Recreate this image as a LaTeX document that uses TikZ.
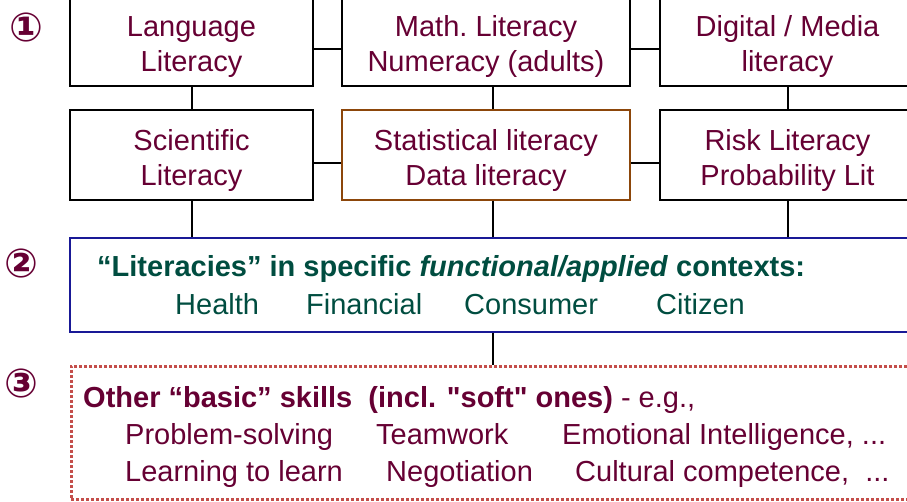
\documentclass[tikz,border=0pt]{standalone}
\usepackage{fontspec}
\setmainfont{Liberation Sans}[Ligatures=TeXOff]
\newfontfamily\numfont{DejaVu Sans}
\usetikzlibrary{calc}

\definecolor{litred}{RGB}{102,0,51}
\definecolor{ctxgreen}{RGB}{0,77,64}
\definecolor{ctxblue}{RGB}{25,25,150}
\definecolor{softred}{RGB}{196,78,74}
\definecolor{statbrown}{RGB}{140,70,10}

\begin{document}
\begin{tikzpicture}[
  x=1pt, y=-1pt,
  litbox/.style={draw, line width=1.5pt, inner sep=0pt, minimum height=90pt,
    text height=68pt, text depth=6pt,
    align=center, text=litred, font=\fontsize{29}{35}\selectfont},
  txt/.style={anchor=base west, inner sep=0pt, font=\fontsize{29}{35}\selectfont},
  num/.style={text=litred, inner sep=0pt, font=\numfont\bfseries\fontsize{40}{40}\selectfont},
  link/.style={draw, line width=2pt}
]
\clip (0,0) rectangle (907,502);

% first row of literacies
\node[litbox, minimum width=243pt] (lang) at (191.5,41) {Language\\Literacy};
\node[litbox, minimum width=288pt] (math) at (486,41) {Math.\ Literacy\\Numeracy (adults)};
\node[litbox, minimum width=255pt] (digi) at (787.5,41) {Digital / Media\\literacy};

% second row
\node[litbox, minimum width=243pt] (sci) at (191.5,155) {Scientific\\Literacy};
\node[litbox, minimum width=288pt, draw=statbrown] (stat) at (486,155) {Statistical literacy\\Data literacy};
\node[litbox, minimum width=255pt] (risk) at (787.5,155) {Risk Literacy\\Probability Lit};

% applied contexts
\node[draw=ctxblue, line width=2pt, minimum width=845pt, minimum height=94pt] (ctx) at (492.5,285) {};
\node[txt, text=ctxgreen, font=\fontsize{29}{35}\selectfont\bfseries] (ctxhead) at (97,277)
  {“Literacies” in specific \textit{functional/applied} contexts:};
\node[txt, text=ctxgreen] (health) at (175,315) {Health};
\node[txt, text=ctxgreen] (fin) at (306,315) {Financial};
\node[txt, text=ctxgreen] (cons) at (464,315) {Consumer};
\node[txt, text=ctxgreen] (citi) at (656,315) {Citizen};

% other skills
\node[draw=softred, line width=3pt, dash pattern=on 3pt off 2pt,
  minimum width=844pt, minimum height=133pt] (soft) at (493,432.5) {};
\node[txt, text=litred] (softhead) at (83,407)
  {\textbf{Other “basic” skills\ \ (incl. "soft" ones)} - e.g.,};
\node[txt, text=litred] (prob) at (125,444) {Problem-solving};
\node[txt, text=litred] (team) at (376,444) {Teamwork};
\node[txt, text=litred] (emo) at (562,444) {Emotional Intelligence, ...};
\node[txt, text=litred] (learn) at (125,481) {Learning to learn};
\node[txt, text=litred] (nego) at (386,481) {Negotiation};
\node[txt, text=litred] (cult) at (575,481) {Cultural competence,\ \ ...};

% level numbers
\node[num] (one) at (26,28) {①};
\node[num] (two) at (21,263) {②};
\node[num] (three) at (21,383) {③};

% connectors
\draw[link] ([yshift=-8pt]lang.east) -- ([yshift=-8pt]math.west);
\draw[link] ([yshift=-8pt]math.east) -- ([yshift=-8pt]digi.west);
\draw[link] ([yshift=-8pt]sci.east) -- ([yshift=-8pt]stat.west);
\draw[link] ([yshift=-8pt]stat.east) -- ([yshift=-8pt]risk.west);
\draw[link] (lang.south) -- (sci.north);
\draw[link] ([xshift=7pt]math.south) -- ([xshift=7pt]stat.north);
\draw[link] (digi.south) -- (risk.north);
\draw[link] (sci.south) -- (sci.south |- ctx.north);
\draw[link] ([xshift=7pt]stat.south) -- ([xshift=7pt]stat.south |- ctx.north);
\draw[link] (risk.south) -- (risk.south |- ctx.north);
\draw[link] (ctx.south) -- (ctx.south |- soft.north);
\end{tikzpicture}
\end{document}
